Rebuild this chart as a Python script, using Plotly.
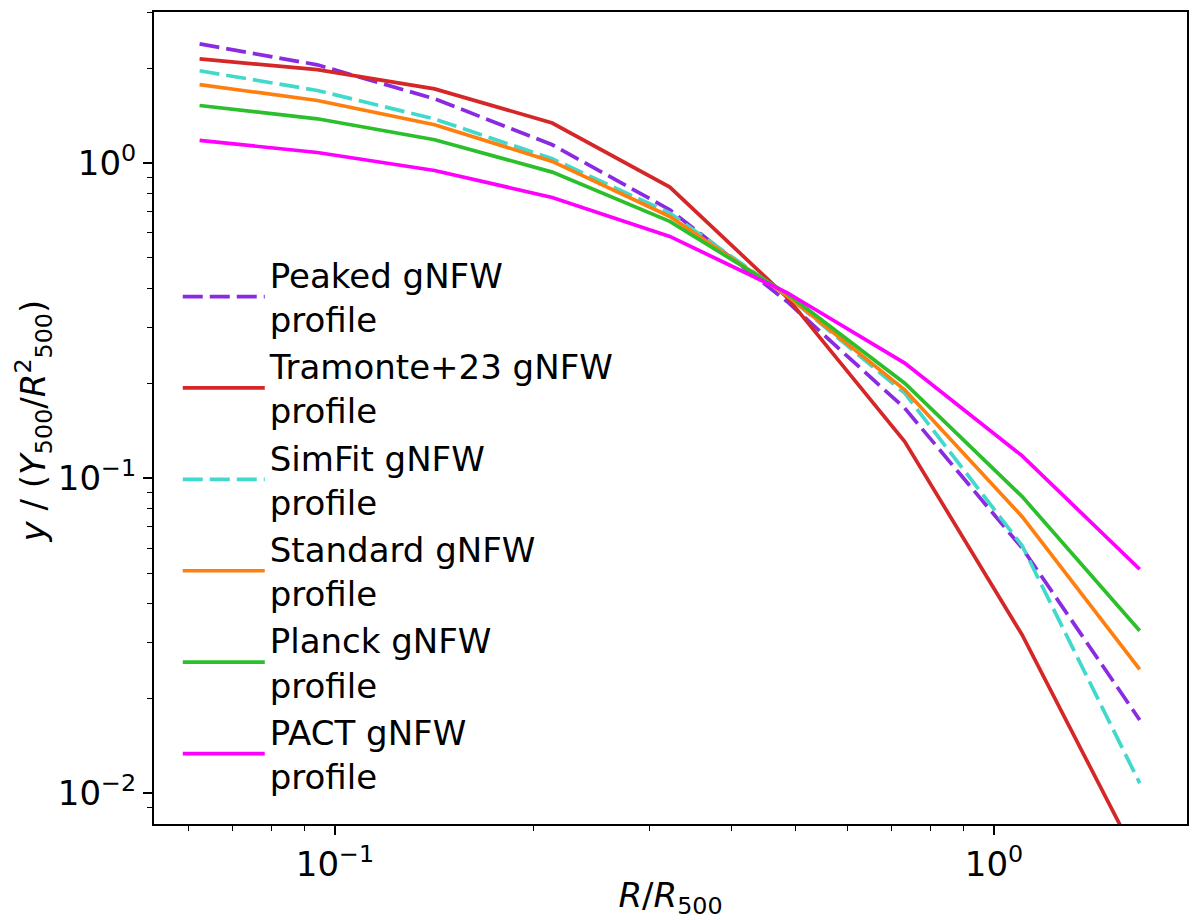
import plotly.graph_objects as go

# radial bins (R / R500)
r_bins = [0.0623, 0.0940, 0.1416, 0.2136, 0.3221, 0.4857, 0.7320, 1.1035, 1.664]

# profiles, y / (Y500 / R500^2)
peaked = [2.39, 2.05, 1.60, 1.143, 0.711, 0.363, 0.1668, 0.0600, 0.01709]
tramonte = [2.14, 1.98, 1.72, 1.34, 0.839, 0.374, 0.1307, 0.0318, 0.0060]
simfit = [1.963, 1.70, 1.38, 1.032, 0.694, 0.379, 0.1861, 0.0610, 0.01076]
standard = [1.773, 1.58, 1.323, 1.012, 0.677, 0.379, 0.1907, 0.0755, 0.02475]
planck = [1.523, 1.382, 1.186, 0.936, 0.653, 0.3847, 0.2002, 0.0874, 0.0328]
pact = [1.18, 1.08, 0.947, 0.778, 0.585, 0.3876, 0.2318, 0.1177, 0.0514]

names = ["Peaked gNFW<br>profile", "Tramonte+23 gNFW<br>profile", "SimFit gNFW<br>profile",
         "Standard gNFW<br>profile", "Planck gNFW<br>profile", "PACT gNFW<br>profile"]
colors = ["#8a2be2", "#d62728", "#40d9cc", "#ff7f0e", "#2cbf2c", "#ff00ff"]
dashes = ["20px,7px", "solid", "20px,7px", "solid", "solid", "solid"]

x_tickvals = [0.1, 1.0]
x_ticktext = ["10<sup>\u22121</sup>", "10<sup>0</sup>"]
y_tickvals = [0.01, 0.1, 1.0]
y_ticktext = ["10<sup>\u22122</sup>", "10<sup>\u22121</sup>", "10<sup>0</sup>"]
x_minor = [0.06, 0.07, 0.08, 0.09, 0.2, 0.3, 0.4, 0.5, 0.6, 0.7, 0.8, 0.9, 2.0]
y_minor = [0.009, 0.02, 0.03, 0.04, 0.05, 0.06, 0.07, 0.08, 0.09,
           0.2, 0.3, 0.4, 0.5, 0.6, 0.7, 0.8, 0.9, 2.0, 3.0]

fig = go.Figure()
for prof, name, col, dash in zip([peaked, tramonte, simfit, standard, planck, pact],
                                 names, colors, dashes):
    fig.add_trace(go.Scatter(x=r_bins, y=prof, mode="lines", name=name,
                             line=dict(color=col, width=3.7, dash=dash)))

axis_common = dict(type="log", showgrid=False, zeroline=False, showline=True,
                   linecolor="black", linewidth=2, mirror=True, automargin=False,
                   ticks="outside", ticklen=9, tickwidth=1.5, tickcolor="black",
                   tickfont=dict(size=34, color="black"))

fig.update_xaxes(range=[-1.2747, 0.2929], tickvals=x_tickvals, ticktext=x_ticktext,
                 minor=dict(tickvals=x_minor, ticks="outside", ticklen=5, tickwidth=1.2,
                            tickcolor="black"),
                 title=dict(text="<i>R</i>/<i>R</i><sub>500</sub>", font=dict(size=34, color="black"),
                            standoff=6),
                 **axis_common)
fig.update_yaxes(range=[-2.0975, 0.4794], tickvals=y_tickvals, ticktext=y_ticktext,
                 minor=dict(tickvals=y_minor, ticks="outside", ticklen=5, tickwidth=1.2,
                            tickcolor="black"),
                 **axis_common)

# y-axis label as a rotated annotation so it can sit close to the page edge
fig.add_annotation(text="<i>y</i> / (<i>Y</i><sub>500</sub>/<i>R</i><sup>2</sup><sub>500</sub>)",
                   xref="paper", yref="paper", x=-0.117, y=0.496,
                   xanchor="center", yanchor="middle", textangle=-90, showarrow=False,
                   font=dict(size=34, color="black"))

fig.update_layout(
    width=1192, height=912,
    margin=dict(l=146, r=13, t=4, b=96),
    paper_bgcolor="white", plot_bgcolor="white",
    font=dict(family="DejaVu Sans", size=34, color="black"),
    legend=dict(x=0.023, y=0.712, xanchor="left", yanchor="top",
                bgcolor="rgba(255,255,255,0)", font=dict(size=34),
                itemwidth=82, tracegroupgap=0),
)

fig.write_html("out.html")
